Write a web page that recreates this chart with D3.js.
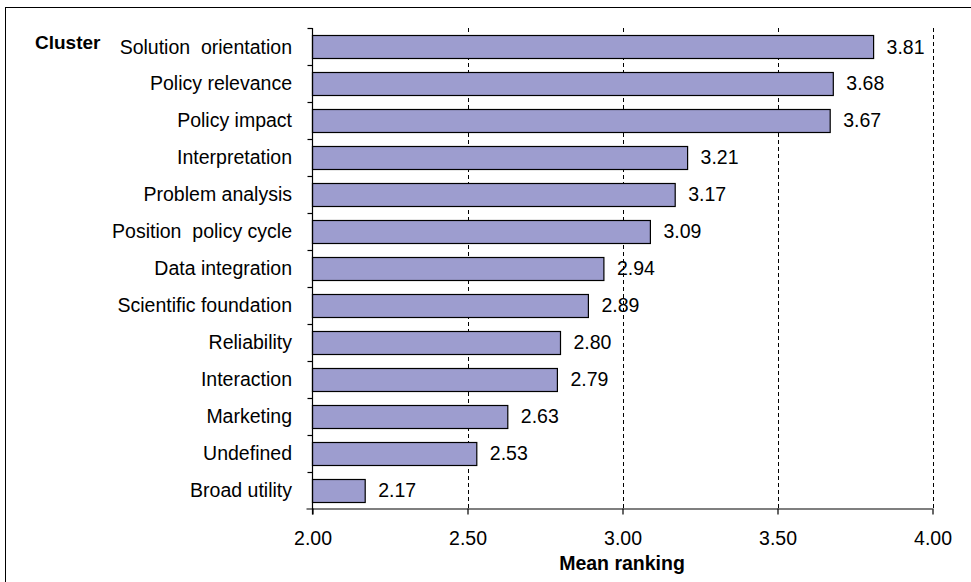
<!DOCTYPE html>
<html>
<head>
<meta charset="utf-8">
<script src="https://cdn.jsdelivr.net/npm/d3@7/dist/d3.min.js"></script>
<style>
  html, body { margin: 0; padding: 0; background: #fff; }
  svg { display: block; font-family: Arial, "Liberation Sans", sans-serif; }
</style>
</head>
<body>
<svg id="chart" width="971" height="582"></svg>
<script>
// Cluster names, top to bottom
const clusters = [
  "Solution  orientation", "Policy relevance", "Policy impact", "Interpretation",
  "Problem analysis", "Position  policy cycle", "Data integration",
  "Scientific foundation", "Reliability", "Interaction", "Marketing",
  "Undefined", "Broad utility"
];
// Mean ranking per cluster
const meanRanking = [3.81, 3.68, 3.67, 3.21, 3.17, 3.09, 2.94, 2.89, 2.80, 2.79, 2.63, 2.53, 2.17];
// Axis ticks
const xTicks = [2.00, 2.50, 3.00, 3.50, 4.00];

const data = clusters.map((c, i) => ({ name: c, value: meanRanking[i] }));

const svg = d3.select("#chart");
const plot = { left: 312.5, right: 932.5, top: 28, bottom: 508.5 };
const FONT = 19.5;

// outer frame
svg.append("rect")
  .attr("x", 5.5).attr("y", 7.5)
  .attr("width", 975).attr("height", 590)
  .attr("fill", "none").attr("stroke", "#000").attr("stroke-width", 1);

const x = d3.scaleLinear().domain([2, 4]).range([plot.left, plot.right]);
const y = d3.scaleBand().domain(clusters).range([plot.top, plot.bottom]).paddingInner(0.39).paddingOuter(0.195);

// dashed gridlines
svg.append("g").selectAll("line")
  .data(xTicks.filter(t => t > 2))
  .join("line")
  .attr("x1", d => Math.round(x(d)) + 0.5).attr("x2", d => Math.round(x(d)) + 0.5)
  .attr("y1", plot.top).attr("y2", plot.bottom)
  .attr("stroke", "#000").attr("stroke-width", 1).attr("stroke-dasharray", "4,3");

// bars
svg.append("g").selectAll("rect")
  .data(data)
  .join("rect")
  .attr("x", x(2))
  .attr("y", d => Math.round(y(d.name)) + 0.5)
  .attr("width", d => x(d.value) - x(2))
  .attr("height", Math.round(y.bandwidth()))
  .attr("fill", "#9d9dcf")
  .attr("stroke", "#000").attr("stroke-width", 1.2);

// value labels
svg.append("g").selectAll("text")
  .data(data)
  .join("text")
  .attr("x", d => x(d.value) + 13)
  .attr("y", d => y(d.name) + y.bandwidth() / 2)
  .attr("dy", "0.36em")
  .attr("font-size", FONT)
  .attr("fill", "#000")
  .text(d => d.value.toFixed(2));

// x axis
const xAxis = d3.axisBottom(x).tickValues(xTicks).tickFormat(d3.format(".2f")).tickSize(6).tickPadding(17);
const gx = svg.append("g").attr("transform", `translate(0,${plot.bottom})`).call(xAxis);
gx.select(".domain").attr("d", `M${plot.left - 6},0.5H${plot.right}`).attr("stroke", "#000").attr("stroke-width", 1.2);
gx.selectAll(".tick line").attr("stroke", "#000").attr("stroke-width", 1.2);
gx.selectAll(".tick text").attr("font-size", FONT).attr("font-family", "Arial, 'Liberation Sans', sans-serif").attr("fill", "#000");

// y axis: ticks sit on the category boundaries
const boundaries = clusters.map(c => y(c) - y.step() * y.paddingInner() / 2);
const gy = svg.append("g");
gy.append("line")
  .attr("x1", plot.left).attr("x2", plot.left)
  .attr("y1", plot.top).attr("y2", plot.bottom + 6)
  .attr("stroke", "#000").attr("stroke-width", 1.2);
gy.selectAll(".yt")
  .data(boundaries)
  .join("line")
  .attr("class", "yt")
  .attr("x1", plot.left - 5).attr("x2", plot.left)
  .attr("y1", d => Math.round(d) + 0.5).attr("y2", d => Math.round(d) + 0.5)
  .attr("stroke", "#000").attr("stroke-width", 1.2);

// category labels
gy.selectAll(".cl")
  .data(data)
  .join("text")
  .attr("class", "cl")
  .attr("x", 292)
  .attr("y", d => y(d.name) + y.bandwidth() / 2)
  .attr("dy", "0.36em")
  .attr("text-anchor", "end")
  .attr("font-size", FONT)
  .style("white-space", "pre")
  .text(d => d.name);

// titles
svg.append("text")
  .attr("x", 35).attr("y", 49)
  .attr("font-size", 19).attr("font-weight", "bold")
  .text("Cluster");

svg.append("text")
  .attr("x", 622).attr("y", 570)
  .attr("text-anchor", "middle")
  .attr("font-size", FONT).attr("font-weight", "bold")
  .text("Mean ranking");
</script>
</body>
</html>
